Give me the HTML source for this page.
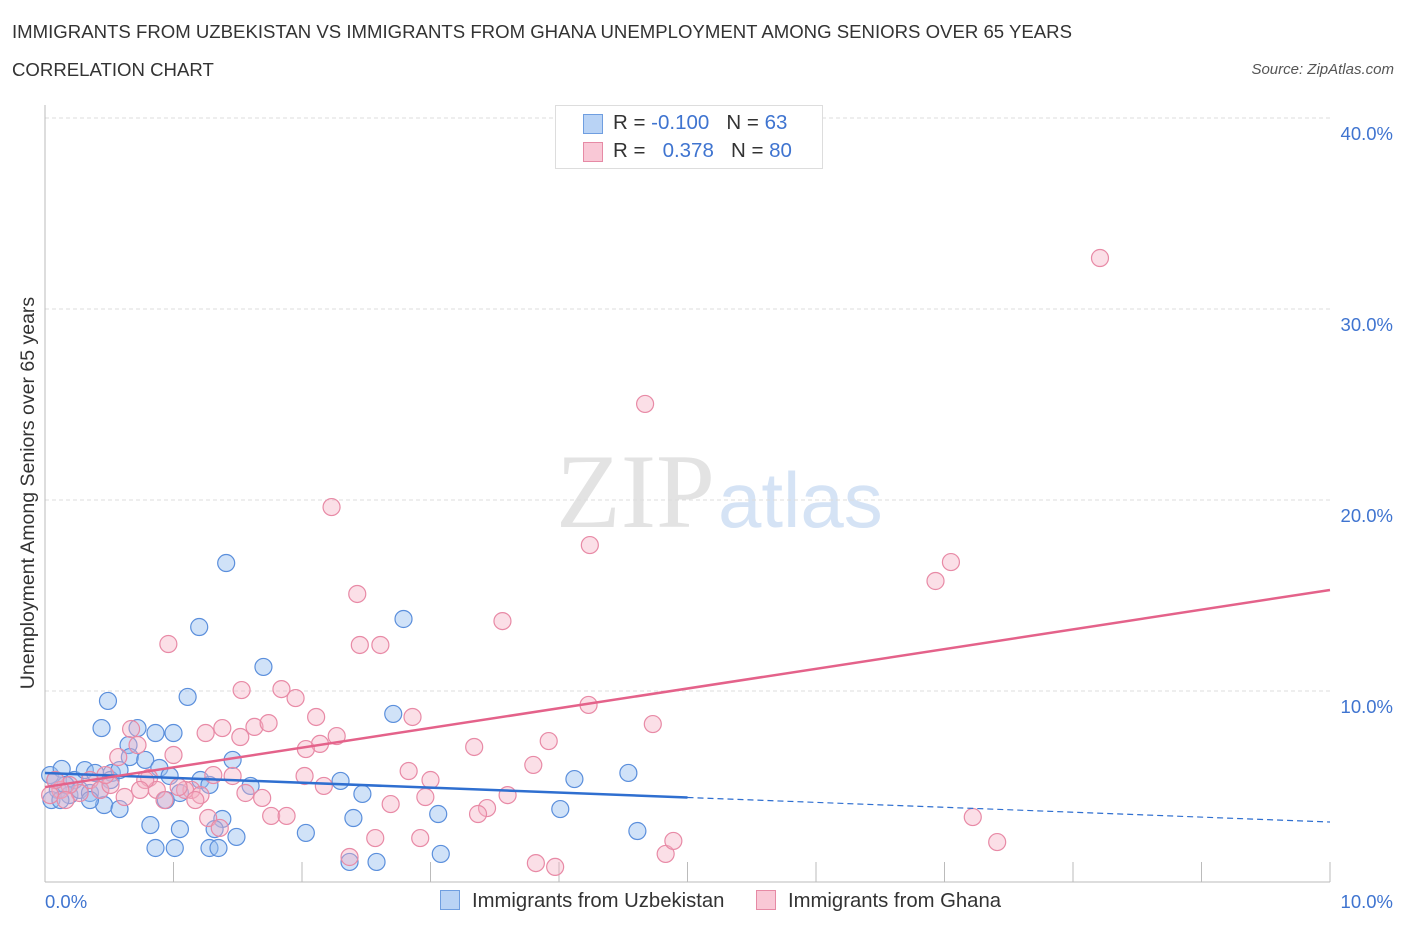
<!DOCTYPE html>
<html><head><meta charset="utf-8"><style>
body{margin:0;background:#fff;font-family:"Liberation Sans",sans-serif;}
#wrap{position:relative;width:1406px;height:930px;overflow:hidden;}
.t{position:absolute;white-space:nowrap;}
</style></head><body>
<div id="wrap">
<div class="t" style="left:12px;top:21px;font-size:18.6px;color:#333;">IMMIGRANTS FROM UZBEKISTAN VS IMMIGRANTS FROM GHANA UNEMPLOYMENT AMONG SENIORS OVER 65 YEARS</div>
<div class="t" style="left:12px;top:59px;font-size:18.6px;color:#333;">CORRELATION CHART</div>
<div class="t" style="right:12px;top:61px;font-size:15px;color:#555;font-style:italic;">Source: ZipAtlas.com</div>
<svg id="plot" width="1406" height="930" style="position:absolute;left:0;top:0"></svg>
</div>
<script>
const xTicks=[0,1,2,3,4,5,6,7,8,9,10];
const yTicks=[10,20,30,40];
const yTickLabels=["10.0%","20.0%","30.0%","40.0%"];
const xEndLabels=["0.0%","10.0%"];
const blueX=[1.41,1.20,2.79,1.70,0.49,1.11,2.71,0.44,0.72,0.86,1.00,0.65,1.46,0.66,0.78,0.89,0.97,1.21,1.60,2.30,2.47,4.01,4.12,4.54,0.04,0.13,0.23,0.31,0.39,0.52,0.10,0.19,0.27,0.35,0.05,0.46,0.58,0.82,1.05,1.38,1.32,0.94,1.05,1.28,2.03,2.40,3.06,4.61,0.86,1.01,1.28,1.35,1.49,2.37,2.58,3.08,0.51,0.43,0.16,0.08,0.58,0.35,0.12];
const blueY=[16.70,13.35,13.77,11.26,9.48,9.69,8.80,8.06,8.06,7.80,7.80,7.17,6.39,6.54,6.39,5.97,5.55,5.34,5.03,5.29,4.61,3.82,5.39,5.71,5.60,5.92,5.34,5.86,5.71,5.71,4.82,4.55,4.82,4.66,4.29,4.03,3.82,2.98,2.77,3.30,2.77,4.29,4.66,5.08,2.57,3.35,3.56,2.67,1.78,1.78,1.78,1.78,2.36,1.05,1.05,1.47,5.34,4.82,5.08,5.34,5.86,4.29,4.29];
const pinkX=[8.21,4.67,2.23,4.24,7.05,6.93,2.43,3.56,0.96,2.45,2.61,1.53,1.84,1.95,2.11,4.23,4.73,2.86,0.67,1.38,1.25,1.52,1.63,1.74,2.27,2.14,2.03,3.34,3.92,0.72,0.57,1.00,3.80,2.83,3.00,2.02,0.81,1.31,1.46,2.17,0.87,1.14,1.56,1.69,2.96,3.44,3.37,2.69,3.60,1.27,1.36,1.76,1.88,2.57,2.92,4.83,4.89,3.82,3.97,2.37,7.22,7.41,0.35,0.43,0.27,0.19,0.12,0.08,0.51,0.62,0.78,1.09,1.21,0.04,0.16,0.47,0.74,0.93,1.04,1.17];
const pinkY=[32.67,25.03,19.63,17.64,16.75,15.76,15.08,13.66,12.46,12.41,12.41,10.05,10.10,9.63,8.64,9.27,8.27,8.64,8.01,8.06,7.80,7.59,8.12,8.32,7.64,7.23,6.96,7.07,7.38,7.17,6.54,6.65,6.13,5.81,5.34,5.55,5.45,5.60,5.55,5.03,4.82,4.82,4.66,4.40,4.45,3.87,3.56,4.08,4.55,3.35,2.83,3.46,3.46,2.30,2.30,1.47,2.15,0.99,0.79,1.31,3.40,2.09,5.34,4.82,4.66,5.08,4.82,5.34,5.08,4.45,5.34,4.82,4.55,4.55,4.29,5.60,4.82,4.29,4.97,4.29];
const blueTrend=[5.71,3.14];
const blueSolidEnd=5.0;
const pinkTrend=[4.97,15.29];

const NS="http://www.w3.org/2000/svg";
const svg=document.getElementById('plot');
const X=v=>45+v*128.5;
const Y=v=>882-v*19.1;
function mk(tag,attrs,parent){const e=document.createElementNS(NS,tag);for(const k in attrs)e.setAttribute(k,attrs[k]);(parent||svg).appendChild(e);return e;}
let w1=mk('text',{x:715,y:527,'font-size':106,'font-family':'Liberation Serif, serif',fill:'#e3e3e3','text-anchor':'end'});w1.textContent='ZIP';


let w2=mk('text',{x:718,y:527,'font-size':78,'font-family':'Liberation Sans, sans-serif',fill:'#d5e3f5'});w2.textContent='atlas';


yTicks.forEach((t,i)=>{
 const g=mk('line',{x1:45,x2:1330,y1:Y(t),y2:Y(t),stroke:'#ddd','stroke-dasharray':'4,3'});
 
 
 const l=mk('text',{x:1393,y:Y(t)+22,'font-size':18.5,fill:'#3f74d0','text-anchor':'end'});
 l.textContent=yTickLabels[i];
 
 
});
const ya=mk('line',{x1:45,x2:45,y1:105,y2:882,stroke:'#bbb'});


const xa=mk('line',{x1:45,x2:1330,y1:882,y2:882,stroke:'#bbb'});


xTicks.forEach(t=>{const k=mk('line',{x1:X(t),x2:X(t),y1:862,y2:882,stroke:'#bbb'});
 
 });
const xl0=mk('text',{x:45,y:908,'font-size':18.5,fill:'#3f74d0'});xl0.textContent=xEndLabels[0];


const xl1=mk('text',{x:1393,y:908,'font-size':18.5,fill:'#3f74d0','text-anchor':'end'});xl1.textContent=xEndLabels[1];


const yt=mk('text',{x:0,y:0,'font-size':19.5,fill:'#333','text-anchor':'middle',transform:'translate(34,493) rotate(-90)'});
yt.textContent='Unemployment Among Seniors over 65 years';


blueX.forEach((v,i)=>{const c=mk('circle',{cx:X(v),cy:Y(blueY[i]),r:8.5,fill:'rgba(150,190,240,0.45)',stroke:'#5b8fdc','stroke-width':1.2});
 
 });
pinkX.forEach((v,i)=>{const c=mk('circle',{cx:X(v),cy:Y(pinkY[i]),r:8.5,fill:'rgba(245,175,195,0.4)',stroke:'#e88aa6','stroke-width':1.2});
 
 });
const bAt=x=>blueTrend[0]+(blueTrend[1]-blueTrend[0])*x/10;
const tb=mk('line',{x1:X(0),y1:Y(bAt(0)),x2:X(blueSolidEnd),y2:Y(bAt(blueSolidEnd)),stroke:'#2f6fd0','stroke-width':2.5});


const tbd=mk('line',{x1:X(blueSolidEnd),y1:Y(bAt(blueSolidEnd)),x2:X(10),y2:Y(bAt(10)),stroke:'#2f6fd0','stroke-width':1.2,'stroke-dasharray':'6,4'});


const tp=mk('line',{x1:X(0),y1:Y(pinkTrend[0]),x2:X(10),y2:Y(pinkTrend[1]),stroke:'#e4628a','stroke-width':2.5});


</script>
<div class="t" style="left:555px;top:105px;width:266px;height:62px;border:1px solid #ddd;background:#fff;font-size:20.5px;color:#333;">
 <div style="position:absolute;left:27px;top:8px;width:18px;height:18px;background:#b9d3f5;border:1px solid #6f9ee0;"></div>
 <div style="position:absolute;left:57px;top:5px;">R = <span style="color:#3f74d0">-0.100</span>&nbsp;&nbsp;&nbsp;N = <span style="color:#3f74d0">63</span></div>
 <div style="position:absolute;left:27px;top:36px;width:18px;height:18px;background:#f9c8d6;border:1px solid #e68aa5;"></div>
 <div style="position:absolute;left:57px;top:33px;">R = &nbsp;&nbsp;<span style="color:#3f74d0">0.378</span>&nbsp;&nbsp;&nbsp;N = <span style="color:#3f74d0">80</span></div>
</div>
<div class="t" style="left:440px;top:890px;font-size:20.3px;color:#333;"><span style="display:inline-block;width:18px;height:18px;background:#b9d3f5;border:1px solid #6f9ee0;vertical-align:-3px;margin-right:12px;"></span>Immigrants from Uzbekistan</div>
<div class="t" style="left:756px;top:890px;font-size:20.3px;color:#333;"><span style="display:inline-block;width:18px;height:18px;background:#f9c8d6;border:1px solid #e68aa5;vertical-align:-3px;margin-right:12px;"></span>Immigrants from Ghana</div>
</body></html>
